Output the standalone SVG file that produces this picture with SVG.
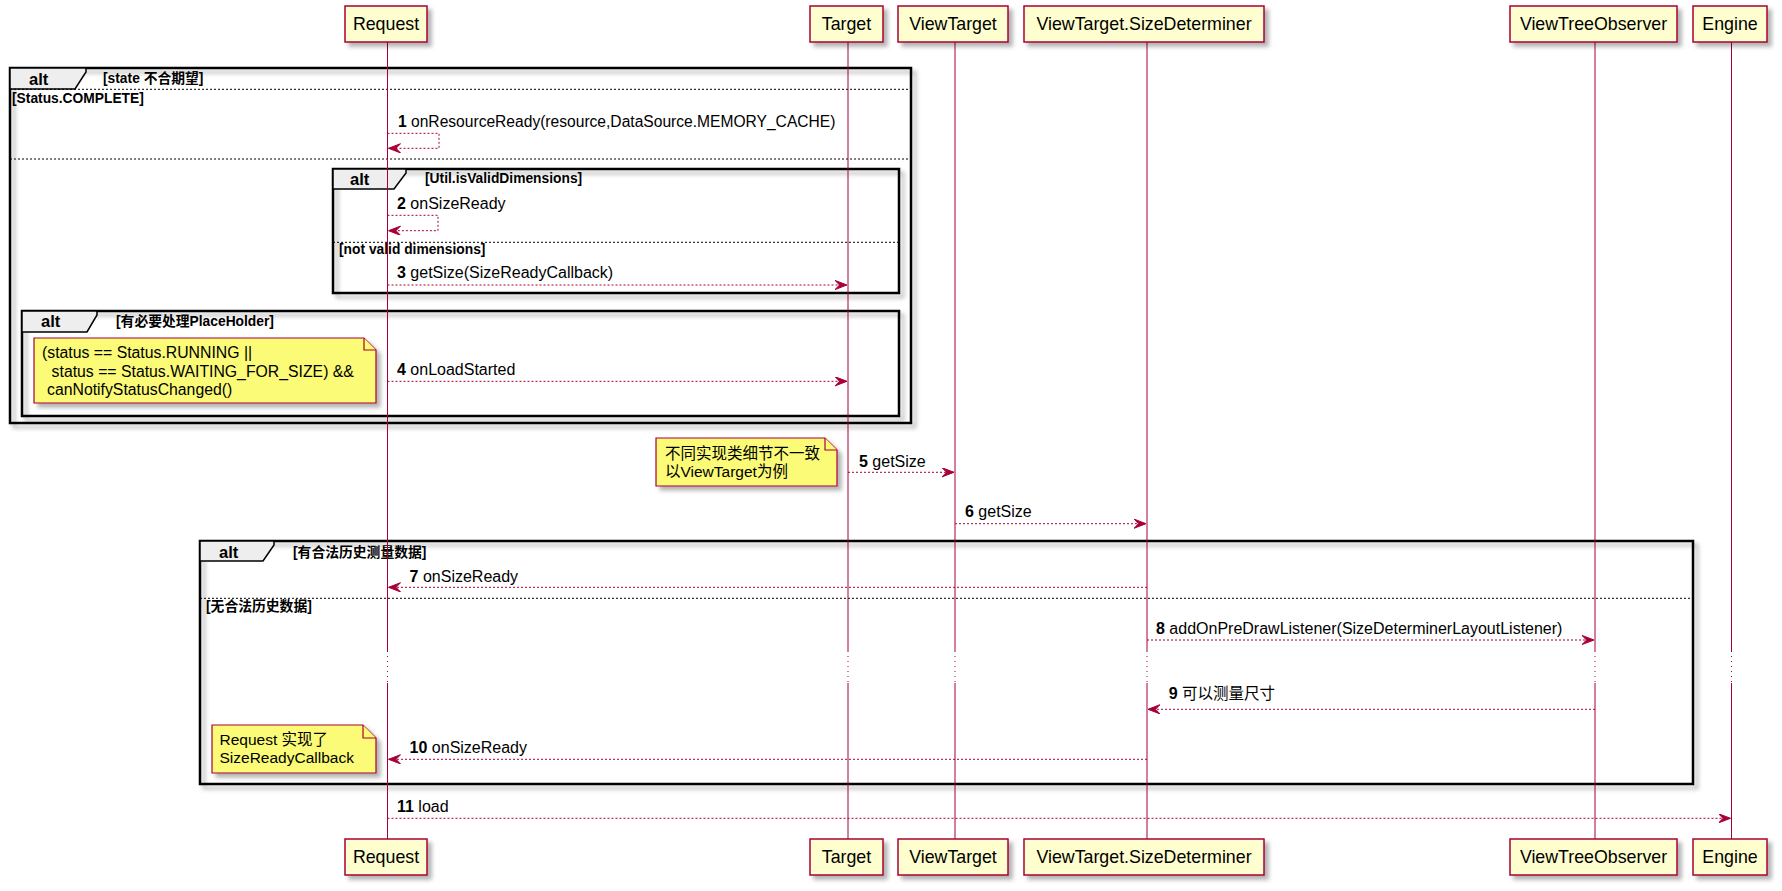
<svg xmlns="http://www.w3.org/2000/svg" width="1782" height="891" viewBox="0 0 1782 891">
<defs>
<filter id="sh" x="-5%" y="-5%" width="115%" height="130%">
<feDropShadow dx="4" dy="4" stdDeviation="2" flood-color="#000" flood-opacity="0.3"/>
</filter>
<marker id="ah" markerWidth="13" markerHeight="10" refX="12" refY="4.6" orient="auto" markerUnits="userSpaceOnUse">
<path d="M0,0 L12,4.6 L0,9.2 L4.5,4.6 Z" fill="#A80036" stroke="#A80036" stroke-width="1"/>
</marker>
</defs>
<style>
text{font-family:"Liberation Sans","Noto Sans CJK SC",sans-serif;fill:#000}
.pbox{fill:#FEFECE;stroke:#A80036;stroke-width:1.5;filter:url(#sh)}
.pt{font-size:17.8px;text-anchor:middle}
.life{stroke:#A80036;stroke-width:1;fill:none}
.lifed{stroke:#A80036;stroke-width:1;stroke-dasharray:1,4;fill:none}
.msg{stroke:#A80036;stroke-width:1;stroke-dasharray:2,2;fill:none;marker-end:url(#ah)}
.mt{font-size:16px}
.mt1{font-size:15.6px}
.mtc{font-size:15.5px}
.num{font-weight:bold}
.numc{font-weight:bold;font-size:16px}
.grp{fill:none;stroke:#000;stroke-width:2.5;filter:url(#sh)}
.tab{fill:#EEEEEE;stroke:#000;stroke-width:1.5}
.sep{stroke:#000;stroke-width:1;stroke-dasharray:2,2}
.alt{font-size:16.5px;font-weight:bold}
.guard{font-size:13.8px;font-weight:bold}
.note{fill:#FBFB77;stroke:#A80036;stroke-width:1.2;filter:url(#sh)}
.fold{fill:#FBFB77;stroke:#A80036;stroke-width:1.2}
.nt{font-size:15.8px}
.ntc{font-size:15.5px}
</style>

<g id="groups">
<g id="alt-outer">
<rect class="grp" x="10" y="68" width="901" height="355"/>
<polygon class="tab" points="10,68 86,68 86,72 75,89 10,89"/>
<text class="alt" x="29" y="85">alt</text>
<text class="guard" x="103" y="83">[state 不合期望]</text>
<line class="sep" x1="10" y1="89.3" x2="911" y2="89.3"/>
<text class="guard" x="12" y="102.5">[Status.COMPLETE]</text>
<line class="sep" x1="10" y1="159" x2="911" y2="159"/>
</g>
<g id="alt-valid">
<rect class="grp" x="333" y="169" width="566" height="124"/>
<polygon class="tab" points="333,169 406,169 406,173 394,189 333,189"/>
<text class="alt" x="350" y="185">alt</text>
<text class="guard" x="425" y="183">[Util.isValidDimensions]</text>
<line class="sep" x1="333" y1="242.3" x2="899" y2="242.3"/>
<text class="guard" x="339" y="254">[not valid dimensions]</text>
</g>
<g id="alt-placeholder">
<rect class="grp" x="22" y="311" width="877" height="105"/>
<polygon class="tab" points="22,311 97,311 97,315 87,332 22,332"/>
<text class="alt" x="41" y="327">alt</text>
<text class="guard" x="116" y="326">[有必要处理PlaceHolder]</text>
</g>
<g id="alt-history">
<rect class="grp" x="200" y="541" width="1493" height="243"/>
<polygon class="tab" points="200,541 274,541 274,545 263,561 200,561"/>
<text class="alt" x="219" y="557.7">alt</text>
<text class="guard" x="293" y="556.7">[有合法历史测量数据]</text>
<line class="sep" x1="200" y1="598.3" x2="1693" y2="598.3"/>
<text class="guard" x="206" y="610.7">[无合法历史数据]</text>
</g>
</g>

<g id="lifelines">
<path class="life" d="M387.5,42V651M387.5,683V839M848,42V651M848,683V839M955,42V651M955,683V839M1147,42V651M1147,683V839M1595,42V651M1595,683V839M1731.5,42V651M1731.5,683V839"/>
<path class="lifed" d="M387.5,651V683M848,651V683M955,651V683M1147,651V683M1595,651V683M1731.5,651V683"/>
</g>

<g id="p-request">
<rect class="pbox" x="345" y="6" width="82" height="36"/>
<text class="pt" x="386" y="30">Request</text>
<rect class="pbox" x="345" y="839" width="82" height="36"/>
<text class="pt" x="386" y="863">Request</text>
</g>
<g id="p-target">
<rect class="pbox" x="810" y="6" width="73" height="36"/>
<text class="pt" x="846.5" y="30">Target</text>
<rect class="pbox" x="810" y="839" width="73" height="36"/>
<text class="pt" x="846.5" y="863">Target</text>
</g>
<g id="p-viewtarget">
<rect class="pbox" x="898" y="6" width="110" height="36"/>
<text class="pt" x="953" y="30">ViewTarget</text>
<rect class="pbox" x="898" y="839" width="110" height="36"/>
<text class="pt" x="953" y="863">ViewTarget</text>
</g>
<g id="p-sizedeterminer">
<rect class="pbox" x="1024" y="6" width="240" height="36"/>
<text class="pt" x="1144" y="30">ViewTarget.SizeDeterminer</text>
<rect class="pbox" x="1024" y="839" width="240" height="36"/>
<text class="pt" x="1144" y="863">ViewTarget.SizeDeterminer</text>
</g>
<g id="p-viewtreeobserver">
<rect class="pbox" x="1510" y="6" width="167" height="36"/>
<text class="pt" x="1593.5" y="30">ViewTreeObserver</text>
<rect class="pbox" x="1510" y="839" width="167" height="36"/>
<text class="pt" x="1593.5" y="863">ViewTreeObserver</text>
</g>
<g id="p-engine">
<rect class="pbox" x="1693" y="6" width="74" height="36"/>
<text class="pt" x="1730" y="30">Engine</text>
<rect class="pbox" x="1693" y="839" width="74" height="36"/>
<text class="pt" x="1730" y="863">Engine</text>
</g>

<g id="note-status">
<path class="note" d="M34,338H364L376,350V403H34Z"/>
<path class="fold" d="M364,338V350H376"/>
<text class="nt" x="42" y="358">(status == Status.RUNNING ||</text>
<text class="nt" x="51.6" y="376.7">status == Status.WAITING_FOR_SIZE) &amp;&amp;</text>
<text class="nt" x="47" y="395">canNotifyStatusChanged()</text>
</g>
<g id="note-impl">
<path class="note" d="M656,438H825L837,450V486H656Z"/>
<path class="fold" d="M825,438V450H837"/>
<text class="ntc" x="665" y="459.3">不同实现类细节不一致</text>
<text class="ntc" x="665" y="477.3">以ViewTarget为例</text>
</g>
<g id="note-callback">
<path class="note" d="M212,725H363L376,738V773H212Z"/>
<path class="fold" d="M363,725V738H376"/>
<text class="ntc" x="219.5" y="745">Request 实现了</text>
<text class="ntc" x="219.5" y="763.3">SizeReadyCallback</text>
</g>

<g id="connectors">
<path class="msg" d="M387.5,133.3H439V148.3H388.5"/>
<text class="mt1" x="398" y="127"><tspan class="num">1</tspan> onResourceReady(resource,DataSource.MEMORY_CACHE)</text>
<path class="msg" d="M387.5,215.3H438V230.7H388.5"/>
<text class="mt" x="397" y="209"><tspan class="num">2</tspan> onSizeReady</text>
<path class="msg" d="M387.5,285H847"/>
<text class="mt" x="397" y="278"><tspan class="num">3</tspan> getSize(SizeReadyCallback)</text>
<path class="msg" d="M387.5,381.3H847"/>
<text class="mt" x="397" y="375"><tspan class="num">4</tspan> onLoadStarted</text>
<path class="msg" d="M848,472.3H954"/>
<text class="mt" x="859" y="466.7"><tspan class="num">5</tspan> getSize</text>
<path class="msg" d="M955,523.7H1146"/>
<text class="mt" x="965" y="517.3"><tspan class="num">6</tspan> getSize</text>
<path class="msg" d="M1147,587.3H388.5"/>
<text class="mt" x="409.6" y="581.7"><tspan class="num">7</tspan> onSizeReady</text>
<path class="msg" d="M1147,640H1594"/>
<text class="mt" x="1156" y="634"><tspan class="num">8</tspan> addOnPreDrawListener(SizeDeterminerLayoutListener)</text>
<path class="msg" d="M1595,709.3H1148"/>
<text class="mtc" x="1168.7" y="699.3"><tspan class="numc">9</tspan> 可以测量尺寸</text>
<path class="msg" d="M1147,759.3H388.5"/>
<text class="mt" x="409.6" y="753.3"><tspan class="num">10</tspan> onSizeReady</text>
<path class="msg" d="M387.5,818.3H1730.5"/>
<text class="mt" x="397" y="811.7"><tspan class="num">11</tspan> load</text>
</g>
</svg>
